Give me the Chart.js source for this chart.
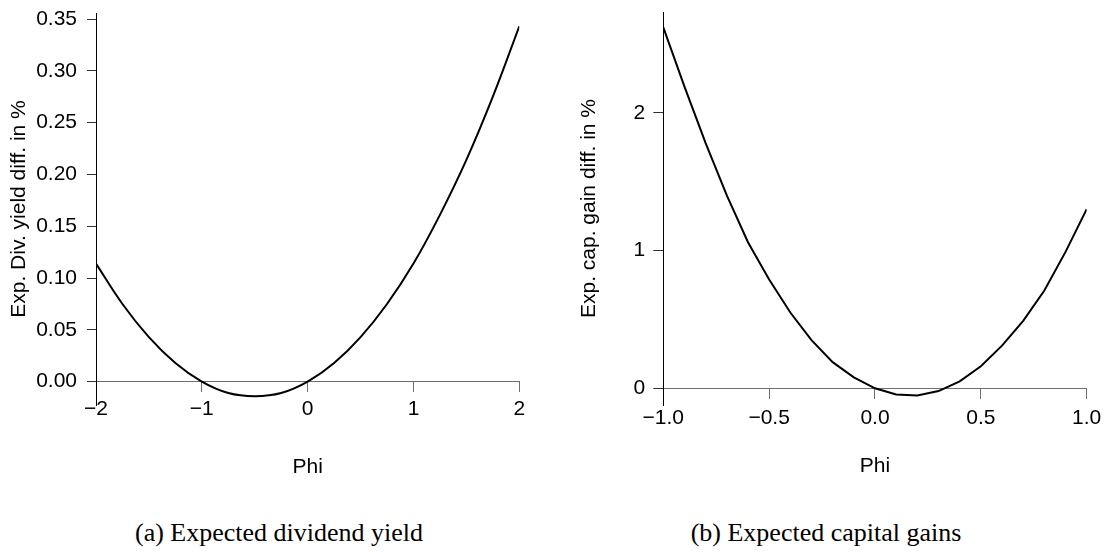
<!DOCTYPE html>
<html><head><meta charset="utf-8">
<script src="https://cdn.jsdelivr.net/npm/chart.js@4/dist/chart.umd.min.js"></script>
<style>
html,body{margin:0;padding:0;background:#fff;width:1107px;height:554px;overflow:hidden;}
canvas{position:absolute;top:0;}
#ca{left:0;} #cb{left:553px;}
.cap{position:absolute;font-family:'Liberation Serif','Times New Roman',serif;font-size:26px;line-height:26px;white-space:nowrap;transform:translateX(-50%);top:520px;color:#000;}
</style></head><body>
<canvas id="ca" width="553" height="500"></canvas>
<canvas id="cb" width="554" height="500"></canvas>
<div class="cap" style="left:279px">(a) Expected dividend yield</div>
<div class="cap" style="left:826px">(b) Expected capital gains</div>
<script>
// Panel (a): expected dividend yield difference
const phiA = [-2,-1.75,-1.5,-1.25,-1,-0.75,-0.5,-0.25,0,0.25,0.5,0.75,1,1.25,1.5,1.75,2];
const divYield = [0.114,0.075,0.043,0.018,0,-0.011,-0.014,-0.011,0,0.018,0.043,0.075,0.114,0.161,0.214,0.275,0.343];
const xTicksA = [-2,-1,0,1,2];
const yTicksA = [0,0.05,0.10,0.15,0.20,0.25,0.30,0.35];

// Panel (b): expected capital gain difference
const phiB = [-1,-0.9,-0.8,-0.7,-0.6,-0.5,-0.4,-0.3,-0.2,-0.1,0,0.1,0.2,0.3,0.4,0.5,0.6,0.7,0.8,0.9,1];
const capGain = [2.62,2.19,1.78,1.40,1.06,0.79,0.55,0.35,0.19,0.08,0,-0.045,-0.052,-0.02,0.05,0.16,0.31,0.49,0.71,0.99,1.30];
const xTicksB = [-1,-0.5,0,0.5,1];
const yTicksB = [0,1,2];

const xTitle = 'Phi';
const yTitleA = 'Exp. Div. yield diff. in %';
const yTitleB = 'Exp. cap. gain diff. in %';

Chart.defaults.font.family = "'Liberation Sans', Arial, Helvetica, sans-serif";
Chart.defaults.font.size = 21;
Chart.defaults.color = '#000';

function fmt(v, d){
  const s = Math.abs(v).toFixed(d);
  return v < 0 ? '\u2212' + s : s;
}

function makeChart(id, o){
  new Chart(document.getElementById(id), {
    type: 'line',
    data: {
      datasets: [{
        data: o.xs.map((x,i)=>({x:x, y:o.ys[i]})),
        borderColor: '#000', borderWidth: 2, pointRadius: 0,
        tension: o.tension, fill: false
      }]
    },
    options: {
      responsive: false, animation: false,
      layout: {padding: o.pad},
      plugins: {legend:{display:false}, tooltip:{enabled:false}},
      scales: {
        x: {
          type: 'linear', position: {y: 0},
          min: o.xMin, max: o.xMax,
          afterBuildTicks: s => { s.ticks = o.xTicks.map(v=>({value:v})); },
          afterFit: s => { s.height = 100; s.paddingLeft = 0; s.paddingRight = 0; },
          ticks: {autoSkip:false, maxRotation:0, padding: o.xLabPad, callback: v => fmt(v, o.xDec)},
          grid: {drawOnChartArea:false, drawTicks:true, tickLength:10, tickColor:'#6e6e6e', tickWidth:1},
          border: {display:true, color:'#6e6e6e', width:1},
          title: {display:true, text: xTitle, padding:{top:0, bottom:o.xTitlePad}}
        },
        y: {
          type: 'linear', position: 'left',
          min: o.yMin, max: o.yMax,
          afterBuildTicks: s => { s.ticks = o.yTicks.map(v=>({value:v})); },
          afterFit: s => { s.width = o.yW; s.paddingTop = 0; s.paddingBottom = 0; },
          ticks: {autoSkip:false, padding: o.yLabPad, callback: v => fmt(v, o.yDec)},
          grid: {drawOnChartArea:false, drawTicks:true, tickLength:o.yTick, tickColor:'#333', tickWidth:1},
          border: {display:true, color:'#000', width:1},
          title: {display:true, text: o.yTitle, padding:{top:o.yTitlePad, bottom:0}}
        }
      }
    }
  });
}

makeChart('ca', {
  xs: phiA, ys: divYield, xTicks: xTicksA, yTicks: yTicksA, xDec: 0, yDec: 2,
  xMin: -2, xMax: 2, yMin: -0.0225, yMax: 0.3558, tension: 0.4,
  pad: {left:0, top:13, right:33.7, bottom:95}, yW: 96,
  xLabPad: 5, xTitlePad: 2, yLabPad: 10, yTick: 9, yTitle: yTitleA, yTitlePad: 7
});
makeChart('cb', {
  xs: phiB, ys: capGain, xTicks: xTicksB, yTicks: yTicksB, xDec: 1, yDec: 0,
  xMin: -1, xMax: 1, yMin: -0.121, yMax: 2.731, tension: 0,
  pad: {left:0, top:12, right:20.3, bottom:95}, yW: 110.3,
  xLabPad: 7, xTitlePad: 10, yLabPad: 8, yTick: 10, yTitle: yTitleB, yTitlePad: 24
});
</script>
</body></html>
